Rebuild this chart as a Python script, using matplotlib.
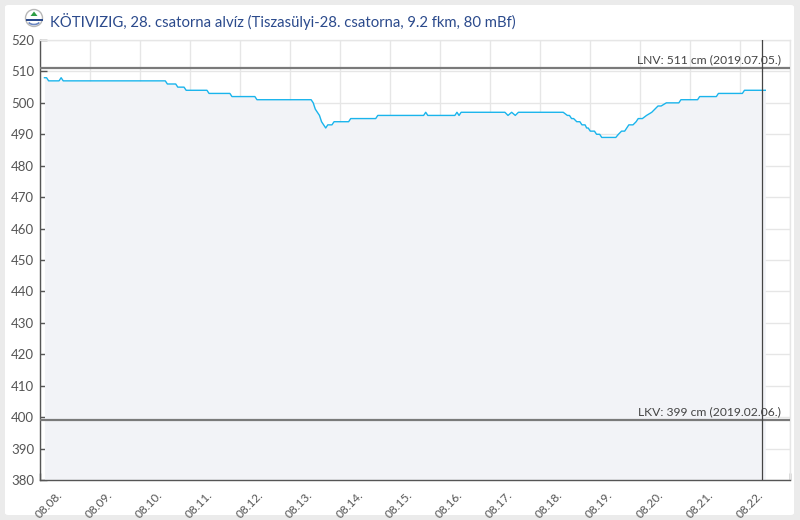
import matplotlib
matplotlib.use("Agg")
import matplotlib.pyplot as plt
import matplotlib.patches as mpatches
from matplotlib.transforms import IdentityTransform, ScaledTranslation
import pandas as pd

# adatok (vízállás, cm)
YEAR = 2023
times = [
    "08-08 02:00", "08-08 03:00", "08-08 04:00", "08-08 09:00", "08-08 10:00", "08-08 11:00",
    "08-10 12:00", "08-10 13:00", "08-10 17:00", "08-10 18:00", "08-10 21:00", "08-10 22:00",
    "08-11 08:00", "08-11 09:00", "08-11 19:00", "08-11 20:00", "08-12 07:00", "08-12 08:00",
    "08-13 10:00", "08-13 11:00", "08-13 12:00", "08-13 13:00", "08-13 14:00", "08-13 15:00",
    "08-13 16:00", "08-13 17:00", "08-13 18:00", "08-13 20:00", "08-13 21:00",
    "08-14 04:00", "08-14 05:00", "08-14 17:00", "08-14 18:00",
    "08-15 16:00", "08-15 17:00", "08-15 18:00",
    "08-16 07:00", "08-16 08:00", "08-16 09:00", "08-16 10:00",
    "08-17 07:00", "08-17 08:30", "08-17 10:15", "08-17 12:00", "08-17 13:30",
    "08-18 11:00", "08-18 13:00", "08-18 14:00", "08-18 15:00", "08-18 16:00",
    "08-18 17:30", "08-18 19:00", "08-18 20:00", "08-18 21:30", "08-18 22:15", "08-18 23:00",
    "08-19 00:00", "08-19 02:00", "08-19 03:00", "08-19 04:30", "08-19 05:30", "08-19 12:15",
    "08-19 13:30", "08-19 15:00", "08-19 16:30", "08-19 18:30", "08-19 20:30", "08-19 22:00",
    "08-19 23:00", "08-20 01:00", "08-20 03:00", "08-20 05:30", "08-20 07:00", "08-20 08:30",
    "08-20 10:00", "08-20 12:30", "08-20 18:30", "08-20 19:30", "08-21 03:30", "08-21 04:30",
    "08-21 12:30", "08-21 13:30", "08-22 01:00", "08-22 02:00", "08-22 12:00",
]
levels = [
    508, 508, 507, 507, 508, 507,
    507, 506, 506, 505, 505, 504,
    504, 503, 503, 502, 502, 501,
    501, 500, 498, 497, 496, 494,
    493, 492, 493, 493, 494,
    494, 495, 495, 496,
    496, 497, 496,
    496, 497, 496, 497,
    497, 496, 497, 496, 497,
    497, 496, 496, 495, 495,
    494, 494, 493, 493, 492, 492,
    491, 491, 490, 490, 489, 489,
    490, 491, 491, 493, 493, 494,
    495, 495, 496, 497, 498, 499,
    499, 500, 500, 501, 501, 502,
    502, 503, 503, 504, 504,
]
lnv_value = 511
lnv_label = "LNV: 511 cm (2019.07.05.)"
lkv_value = 399
lkv_label = "LKV: 399 cm (2019.02.06.)"
title = "KÖTIVIZIG, 28. csatorna alvíz (Tiszasülyi-28. csatorna, 9.2 fkm, 80 mBf)"
now_time = "08-22 10:30"
x_start, x_end = "08-08 00:00", "08-23 00:00"
y_ticks = list(range(380, 521, 10))


def ts(s):
    return pd.Timestamp(f"{YEAR}-{s}")


plt.rcParams['font.family'] = ['Lato', 'DejaVu Sans']

W, H = 800, 520
fig = plt.figure(figsize=(W / 100, H / 100), dpi=100, facecolor="#ebebeb")

# fehér panel
panel = mpatches.FancyBboxPatch((5 / W, 5 / H), 789 / W, 510 / H,
                                boxstyle="round,pad=0,rounding_size=0.004",
                                transform=fig.transFigure, facecolor="white",
                                edgecolor="none", zorder=-5)
fig.patches.append(panel)

# logó
pix = IdentityTransform()
cx, cy = 34, H - 18
fig.patches.append(mpatches.Circle((cx, cy), 8.5, transform=pix, facecolor="white",
                                   edgecolor="#b8b8b8", lw=1.0, zorder=2))
fig.patches.append(mpatches.Polygon([(cx - 3.5, cy + 2), (cx + 3.5, cy + 2), (cx, cy + 6.5)],
                                    transform=pix, facecolor="#2e9e44", edgecolor="none", zorder=3))
fig.patches.append(mpatches.Rectangle((cx - 8.5, cy - 2.5), 17, 1.8, transform=pix,
                                      facecolor="#2b4a8c", edgecolor="none", zorder=3))
fig.patches.append(mpatches.Arc((cx, cy - 2.5), 12, 8, theta1=200, theta2=340, transform=pix,
                                edgecolor="#6a86c0", lw=1.2, zorder=3))

fig.text(50 / W, (H - 26.5) / H, title, color="#2b4a8c", fontsize=10.7, va="baseline")

# tengely
x0, x1, y0, y1 = 40.3, 790.3, 40, 480
ax = fig.add_axes([x0 / W, (H - y1) / H, (x1 - x0) / W, (y1 - y0) / H])
ax.set_facecolor("none")

t = [ts(s) for s in times]
ax.fill_between(t, levels, 380, color="#f2f3f7", lw=0, zorder=1)
ax.plot(t, levels, color="#1ab4ec", lw=1.0, zorder=4)

ax.axhline(lnv_value, color="#7a7a7a", lw=1.6, zorder=3)
ax.axhline(lkv_value, color="#7a7a7a", lw=1.6, zorder=3)
ax.axvline(ts(now_time), color="#444444", lw=0.9, zorder=5)

for val, lab in [(lnv_value, lnv_label), (lkv_value, lkv_label)]:
    ax.annotate(lab, xy=(1, val), xycoords=("axes fraction", "data"),
                xytext=(-9, 5), textcoords="offset pixels",
                ha="right", va="baseline", fontsize=8.7, color="#444444", zorder=6)

ax.set_xlim(ts(x_start), ts(x_end))
ax.set_ylim(380, 520)

days = pd.date_range(ts(x_start), ts(x_end), freq="D")
ax.set_xticks(days)
ax.set_xticklabels([d.strftime("%m.%d.") for d in days[:-1]] + [""])
ax.set_yticks(y_ticks)
ax.set_yticklabels([str(v) for v in y_ticks])

ax.grid(True, color="#e6e6e6", lw=1.0, zorder=0)
ax.set_axisbelow(True)

for side in ["left", "bottom"]:
    ax.spines[side].set_color("#555555")
    ax.spines[side].set_linewidth(1.0)
for side in ["top", "right"]:
    ax.spines[side].set_color("#e6e6e6")
    ax.spines[side].set_linewidth(1.0)

ax.tick_params(axis="both", direction="in", length=5, width=1.0, color="#555555",
               labelcolor="#555555")
ax.tick_params(axis="y", pad=4.5, labelsize=9.5)
ax.tick_params(axis="x", pad=7, labelsize=8.5, labelrotation=45)

shift = ScaledTranslation(9 / 100, 0, fig.dpi_scale_trans)
for lbl in ax.get_xticklabels():
    lbl.set_ha("center")
    lbl.set_va("top")
    lbl.set_transform(lbl.get_transform() + shift)

fig.savefig("out.png", dpi=100, facecolor=fig.get_facecolor())
